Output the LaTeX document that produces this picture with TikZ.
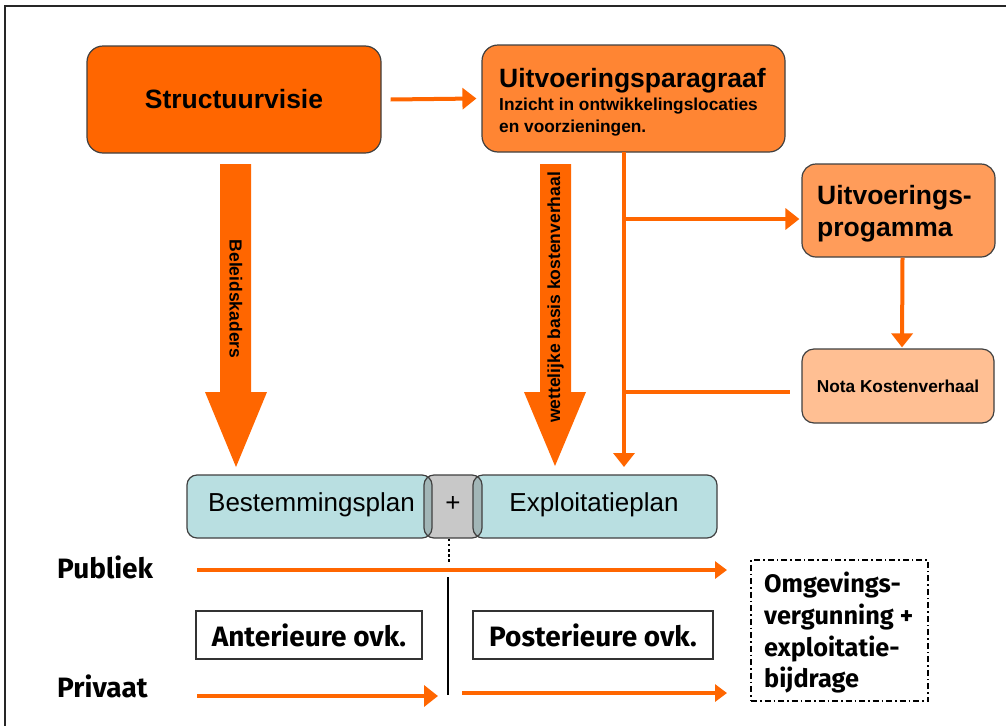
\documentclass[tikz,border=0pt]{standalone}
\usepackage{fontspec}
\setmainfont{Liberation Sans}
\newfontfamily\fira{Fira Sans}
\usetikzlibrary{arrows.meta}
\definecolor{org}{HTML}{FF6600}
\definecolor{upfill}{HTML}{FF8533}
\definecolor{pgfill}{HTML}{FF9C5A}
\definecolor{nkfill}{HTML}{FFBF93}
\definecolor{cyanbox}{HTML}{B9DFE1}
\definecolor{graybox}{HTML}{C8C8C8}
\definecolor{overlap}{HTML}{A2B6B7}
\definecolor{edge}{HTML}{404040}
\begin{document}
\begin{tikzpicture}[x=1pt,y=-1pt,
  ob/.style={draw=edge, line width=1.2pt, rounded corners=16pt, inner sep=0pt},
  oarr/.style={draw=org, line width=4pt, -{Triangle[length=14pt,width=21pt]}},
  sarr/.style={draw=org, line width=4pt, -{Triangle[length=12pt,width=17pt]}},
  oline/.style={draw=org, line width=4pt},
  big/.style={fill=org},
  ttl/.style={font=\fontsize{26.5}{30}\selectfont\bfseries, inner sep=0pt},
  sub/.style={font=\fontsize{17.3}{20}\selectfont\bfseries, inner sep=0pt},
  vlab/.style={font=\fontsize{17.5}{20}\selectfont\bfseries, inner sep=0pt},
  plain/.style={font=\fontsize{26}{30}\selectfont, inner sep=0pt},
  fb/.style={font=\fira\fontsize{28}{31}\selectfont\bfseries, inner sep=0pt},
  fbs/.style={font=\fira\fontsize{25.3}{31}\selectfont\bfseries, inner sep=0pt, anchor=base west},
  wbox/.style={draw=black!80, line width=1.5pt, inner sep=0pt}
]
\useasboundingbox (0,0) rectangle (1006,726);
\fill[white] (0,0) rectangle (1006,726);
% frame
\draw[line width=2.4pt, black!85] (1006,6) -- (5,6) -- (5,726);

% top boxes
\node[ob, fill=org, minimum width=294pt, minimum height=107pt, ttl] (sv) at (234,99.5) {Structuurvisie};
\node[ob, fill=upfill, minimum width=303pt, minimum height=107pt] (up) at (633.5,98.5) {};
\node[ttl, anchor=base west] (upt) at (499,87) {Uitvoeringsparagraaf};
\node[sub, anchor=base west] (ups1) at (499,110) {Inzicht in ontwikkelingslocaties};
\node[sub, anchor=base west] (ups2) at (499,132) {en voorzieningen.};

\node[ob, fill=pgfill, rounded corners=14pt, minimum width=193pt, minimum height=93pt] (pg) at (898.5,210.5) {};
\node[ttl, anchor=base west] (pgt1) at (817,204) {Uitvoerings-};
\node[ttl, anchor=base west] (pgt2) at (817,236) {progamma};

\node[ob, fill=nkfill, rounded corners=12pt, minimum width=192pt, minimum height=74pt, font=\fontsize{17.3}{20}\selectfont\bfseries] (nk) at (898,386) {Nota Kostenverhaal};

% arrow Structuurvisie -> Uitvoeringsparagraaf
\draw[oarr] ([xshift=9pt]sv.east) -- ([xshift=-5pt]up.west);

% thin vertical line with branches
\coordinate (vt) at (624,152);
\coordinate (j1) at (624,219);
\coordinate (j2) at (624,392);
\coordinate (vb) at (624,467);
\draw[oarr] (vt) -- (vb);
\draw[oarr] (j1) -- ([xshift=-2pt]pg.west |- j1);
\draw[oline] (j2) -- ([xshift=-11pt]nk.west |- j2);
\draw[oarr] ([xshift=4pt]pg.south) -- ([xshift=4pt,yshift=1pt]nk.north);

% big arrows
\fill[big] (220,164) -- (251,164) -- (251,392) -- (267,392) -- (236,467) -- (205,392) -- (220,392) -- cycle;
\node[vlab, rotate=-90] (bk) at (236,299) {Beleidskaders};
\fill[big] (540,164) -- (571,164) -- (571,392) -- (586,392) -- (555,466) -- (524,392) -- (540,392) -- cycle;
\node[vlab, rotate=90] (wb) at (555.5,297.5) {wettelijke basis kostenverhaal};

% plan boxes
\fill[cyanbox, rounded corners=10pt] (187,475) rectangle (432,538);
\fill[cyanbox, rounded corners=10pt] (473,475) rectangle (717,538);
\fill[graybox, rounded corners=10pt] (424,475) rectangle (482,538);
\begin{scope}
  \clip[rounded corners=10pt] (187,475) rectangle (432,538);
  \fill[overlap, rounded corners=10pt] (424,475) rectangle (482,538);
\end{scope}
\begin{scope}
  \clip[rounded corners=10pt] (473,475) rectangle (717,538);
  \fill[overlap, rounded corners=10pt] (424,475) rectangle (482,538);
\end{scope}
\node[draw=edge, line width=1.2pt, rounded corners=10pt, minimum width=245pt, minimum height=63pt, inner sep=0pt] (bp) at (309.5,506.5) {};
\node[draw=edge, line width=1.2pt, rounded corners=10pt, minimum width=58pt, minimum height=63pt, inner sep=0pt] (plus) at (453,506.5) {};
\node[draw=edge, line width=1.2pt, rounded corners=10pt, minimum width=244pt, minimum height=63pt, inner sep=0pt] (ep) at (595,506.5) {};
\node[plain, anchor=base] (bpt) at (311.5,511) {Bestemmingsplan};
\node[plain, anchor=base] (ept) at (594,511) {Exploitatieplan};
\node[plain, anchor=base] (plt) at (453,511) {+};

% dotted and solid dividers
\coordinate (dv) at (449,564);
\draw[line width=2.6pt, dash pattern=on 2.6pt off 2.6pt] (plus.south -| dv) -- (dv);
\coordinate (sl1) at (448,577);
\coordinate (sl2) at (448,695);
\draw[line width=2.6pt] (sl1) -- (sl2);

% bottom labels
\node[fb, anchor=base west] (pub) at (57,578) {Publiek};
\node[fb, anchor=base west] (priv) at (57,697) {Privaat};

\coordinate (pa1) at (197,570);
\coordinate (pa2) at (727,570);
\draw[sarr] (pa1) -- (pa2);

\coordinate (qa1) at (197,696);
\coordinate (qa2) at (438,696);
\draw[oarr] (qa1) -- (qa2);
\coordinate (ra1) at (462,693);
\coordinate (ra2) at (727,693);
\draw[sarr] (ra1) -- (ra2);

\node[wbox, fb, minimum width=226pt, minimum height=48pt] (ant) at (309,635) {Anterieure ovk.};
\node[wbox, fb, minimum width=240pt, minimum height=48pt] (post) at (593,635) {Posterieure ovk.};

% Omgevingsvergunning box
\node[draw=black, line width=1.3pt, dash pattern=on 6pt off 3pt on 1.5pt off 3pt, minimum width=177pt, minimum height=141pt, inner sep=0pt] (om) at (839.5,630.5) {};
\node[fbs] (om1) at (764,592) {Omgevings-};
\node[fbs] (om2) at (764,624) {vergunning +};
\node[fbs] (om3) at (764,656) {exploitatie-};
\node[fbs] (om4) at (764,687) {bijdrage};
\end{tikzpicture}
\end{document}
